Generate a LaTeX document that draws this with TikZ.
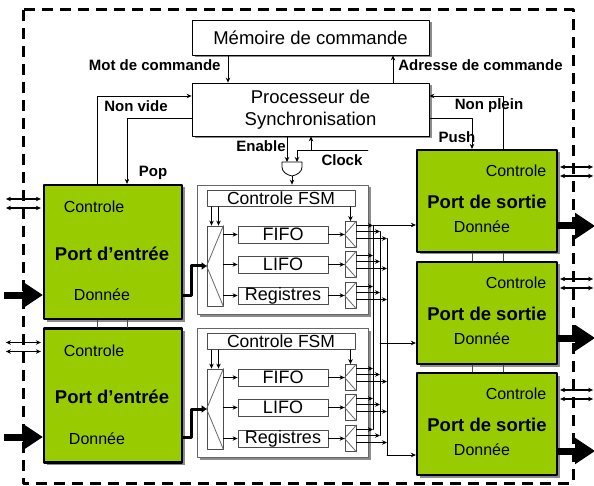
\documentclass[tikz,border=0pt]{standalone}
\usepackage{fontspec}
\setmainfont{Liberation Sans}
\usetikzlibrary{arrows.meta,shadows}
\definecolor{portgreen}{RGB}{153,204,0}
\begin{document}
\begin{tikzpicture}[x=1pt, y=-1pt, line width=.8pt, line join=round, line cap=round, >={Stealth[length=5pt,width=4.5pt]},
  shd/.style={drop shadow={shadow xshift=2.5pt, shadow yshift=-2.5pt, fill=black!45, opacity=1}},
  box/.style={draw, fill=white, inner sep=0pt, font=\fontsize{18}{20}\selectfont},
  cmd/.style={box, shd, minimum width=237pt, align=center, font=\fontsize{18.5}{22}\selectfont},
  blk/.style={draw=black!60, fill=white, shd, minimum width=171pt, minimum height=129pt},
  cell/.style={box, draw=black!70, minimum height=17pt},
  sw/.style={box, draw=black!70, minimum width=11pt, minimum height=26pt},
  port/.style={draw, line width=2.2pt, fill=portgreen, shd},
  lab/.style={font=\bfseries\fontsize{15}{16}\selectfont, inner sep=0pt},
  ptxt/.style={font=\fontsize{16}{18}\selectfont, inner sep=0pt},
  ptitle/.style={font=\bfseries\fontsize{18.5}{20}\selectfont, inner sep=0pt},
  bigarrow/.style={line width=7pt, line cap=butt, -{Triangle[length=20pt,width=25pt]}},
  wire/.style={line width=3pt, -{Triangle[length=5pt,width=7pt]}},
  ctrl/.style={line width=1.3pt, <->}]
\useasboundingbox (0,0) rectangle (594,486);
\draw[line width=3pt, line cap=butt, dash pattern=on 11pt off 7pt] (23,10) rectangle (573,483);
% commande
\node[cmd, minimum height=35pt] (mem) at (310.5,37.5) {Mémoire de commande};
\node[cmd, minimum height=53pt] (proc) at (310.5,109.5) {Processeur de\\Synchronisation};
\draw[->] ([xshift=-82.5pt]mem.south) -- ([xshift=-82.5pt]proc.north);
\draw[->] ([xshift=82.5pt]proc.north) -- ([xshift=82.5pt]mem.south);
\node[lab, anchor=east] (lmot) at (221,65) {Mot de commande};
\node[lab, anchor=west] (ladr) at (398,65) {Adresse de commande};
% ports
\foreach \i/\y in {1/252, 2/395.5}
  \node[port, minimum width=138pt, minimum height=134pt] (in\i) at (113,\y) {};
\foreach \i/\y in {1/201, 2/313, 3/424}
  \node[port, minimum width=140pt, minimum height=102pt] (out\i) at (487,\y) {};
\foreach \i/\dx in {1/-11, 2/-16} {
  \node[ptxt] (cin\i) at ([shift={(-19,-45)}]in\i.center) {Controle};
  \node[ptitle] (tin\i) at ([shift={(-1,1.5)}]in\i.center) {Port d’entrée};
  \node[ptxt] (din\i) at ([shift={(\dx,43)}]in\i.center) {Donnée};
}
\foreach \i in {1,2,3} {
  \node[ptxt] (cout\i) at ([shift={(29,-30)}]out\i.center) {Controle};
  \node[ptitle] (tout\i) at ([shift={(0,1)}]out\i.center) {Port de sortie};
  \node[ptxt] (dout\i) at ([shift={(-5,26)}]out\i.center) {Donnée};
}
% signaux de synchronisation
\draw[->] ([xshift=-16pt]in1.north) |- ([yshift=13.5pt]proc.west);
\draw[->] ([yshift=-8.5pt]proc.west) -| ([xshift=14pt]in1.north);
\draw[->] ([xshift=16pt]out1.north) |- ([yshift=13.5pt]proc.east);
\draw[->] ([yshift=-8.5pt]proc.east) -| ([xshift=-15pt]out1.north);
\node[lab] (lnv) at (136,106) {Non vide};
\node[lab] (lpop) at (153,173) {Pop};
\node[lab] (lnp) at (489,106) {Non plein};
\node[lab] (lpush) at (457,137) {Push};
\foreach \s in {-16,14}
  \draw[black!70] ([xshift=\s pt]in1.south) -- ([xshift=\s pt]in2.north);
\foreach \s in {-15,16} {
  \draw[black!70] ([xshift=\s pt]out1.south) -- ([xshift=\s pt]out2.north);
  \draw[black!70] ([xshift=\s pt]out2.south) -- ([xshift=\s pt]out3.north);
}
% porte Enable / Clock
\coordinate (gate) at (292,169);
\draw[fill=white] (gate) ++(-10,-7) -- ++(20,0) -- ++(0,5) .. controls +(0,5) and +(5,-1) .. ++(-10,9)
  .. controls +(-5,-1) and +(0,5) .. ++(-10,-9) -- cycle;
\coordinate (gin1) at ([shift={(-5,-7)}]gate);
\coordinate (gin2) at ([shift={(5,-7)}]gate);
\coordinate (gout) at ([shift={(0,7)}]gate);
\coordinate (clk) at (368,150);
\coordinate (clkup) at (311,150);
\draw[->] (proc.south -| gin1) -- (gin1);
\draw[->] (clk) -| (gin2);
\draw[->] (clkup) -- (clkup |- proc.south);
\node[lab] (len) at (261,146) {Enable};
\node[lab] (lclk) at (342,160) {Clock};
% bus de sortie
\foreach \j/\x in {1/373, 2/380, 3/387} \coordinate (bus\j) at (\x,0);
% tampons
\foreach \b/\d in {1/0, 2/143} {
  \node[blk] (buf\b) at (282.5,{249.5+\d}) {};
  \node[box, draw=black!70, minimum width=148pt, minimum height=16pt, font=\fontsize{17.5}{20}\selectfont] (fsm\b) at (281,{198.5+\d}) {Controle FSM};
  \node[box, draw=black!70, minimum width=16pt, minimum height=80pt] (dmx\b) at (215,{266+\d}) {};
  \draw[black!60] (dmx\b.north east) -- (dmx\b.west) -- (dmx\b.south east);
  \coordinate (f\b) at (fsm\b.south -| dmx\b.north);
  \foreach \s in {-3.5,3.5} \draw[->] ([xshift=\s pt]f\b) -- ([xshift=\s pt]dmx\b.north);
  \foreach \n/\t/\k/\y in {fifo/FIFO/1/234.5, lifo/LIFO/2/264.5, reg/Registres/3/295.5} {
    \node[cell, minimum width=90pt] (\n\b) at (283,{\y+\d}) {\t};
    \node[sw] (mux\b\k) at (350.5,{\y+\d}) {};
    \draw[black!60] (mux\b\k.north east) -- (mux\b\k.west) -- (mux\b\k.south east);
    \draw[->] (dmx\b.east |- \n\b) -- (\n\b);
    \draw[->] (\n\b) -- (mux\b\k);
    \foreach \j/\o in {1/9, 2/3, 3/-4} {
      \coordinate (o\b\k\j) at ([yshift=\o pt]mux\b\k.east);
      \draw[->] (o\b\k\j) -- (o\b\k\j -| bus\j);
    }
  }
  \draw[->] (fsm\b.south -| mux\b1) -- (mux\b1);
}
\draw[->] (gout) -- (gout |- buf1.north);
\foreach \i/\s in {1/-24, 2/-30, 3/-31} {
  \coordinate (d\i) at ([yshift=\s pt]out\i.west);
  \draw[->] (d\i -| bus\i) -- (d\i);
}
\draw (o111 -| bus1) -- (o231 -| bus1);
\draw (o112 -| bus2) -- (o232 -| bus2);
\draw (o113 -| bus3) -- (d3 -| bus3);
% donnees et controles externes
\foreach \i/\s in {1/-43, 2/-41.5} {
  \coordinate (a\i) at ([yshift=\s pt]in\i.west);
  \draw[bigarrow] ([xshift=-39pt]a\i) -- (a\i);
  \coordinate (e\i) at ([yshift=\s pt]in\i.east);
  \draw[wire] (e\i) -- ++(8,0) |- (dmx\i.west);
}
\foreach \i in {1,2} \foreach \s in {53,44} {
  \coordinate (c) at ([yshift=\s pt]in\i.west);
  \draw[ctrl] ([xshift=-37pt]c) -- ([xshift=-2pt]c);
}
\foreach \i/\s in {1/-25, 2/-25, 3/-27} {
  \coordinate (b\i) at ([yshift=\s pt]out\i.east);
  \draw[bigarrow] (b\i) -- ([xshift=37pt]b\i);
}
\foreach \i in {1,2,3} \foreach \s in {34,25} {
  \coordinate (c) at ([yshift=\s pt]out\i.east);
  \draw[ctrl] ([xshift=2pt]c) -- ([xshift=35pt]c);
}
\end{tikzpicture}
\end{document}
